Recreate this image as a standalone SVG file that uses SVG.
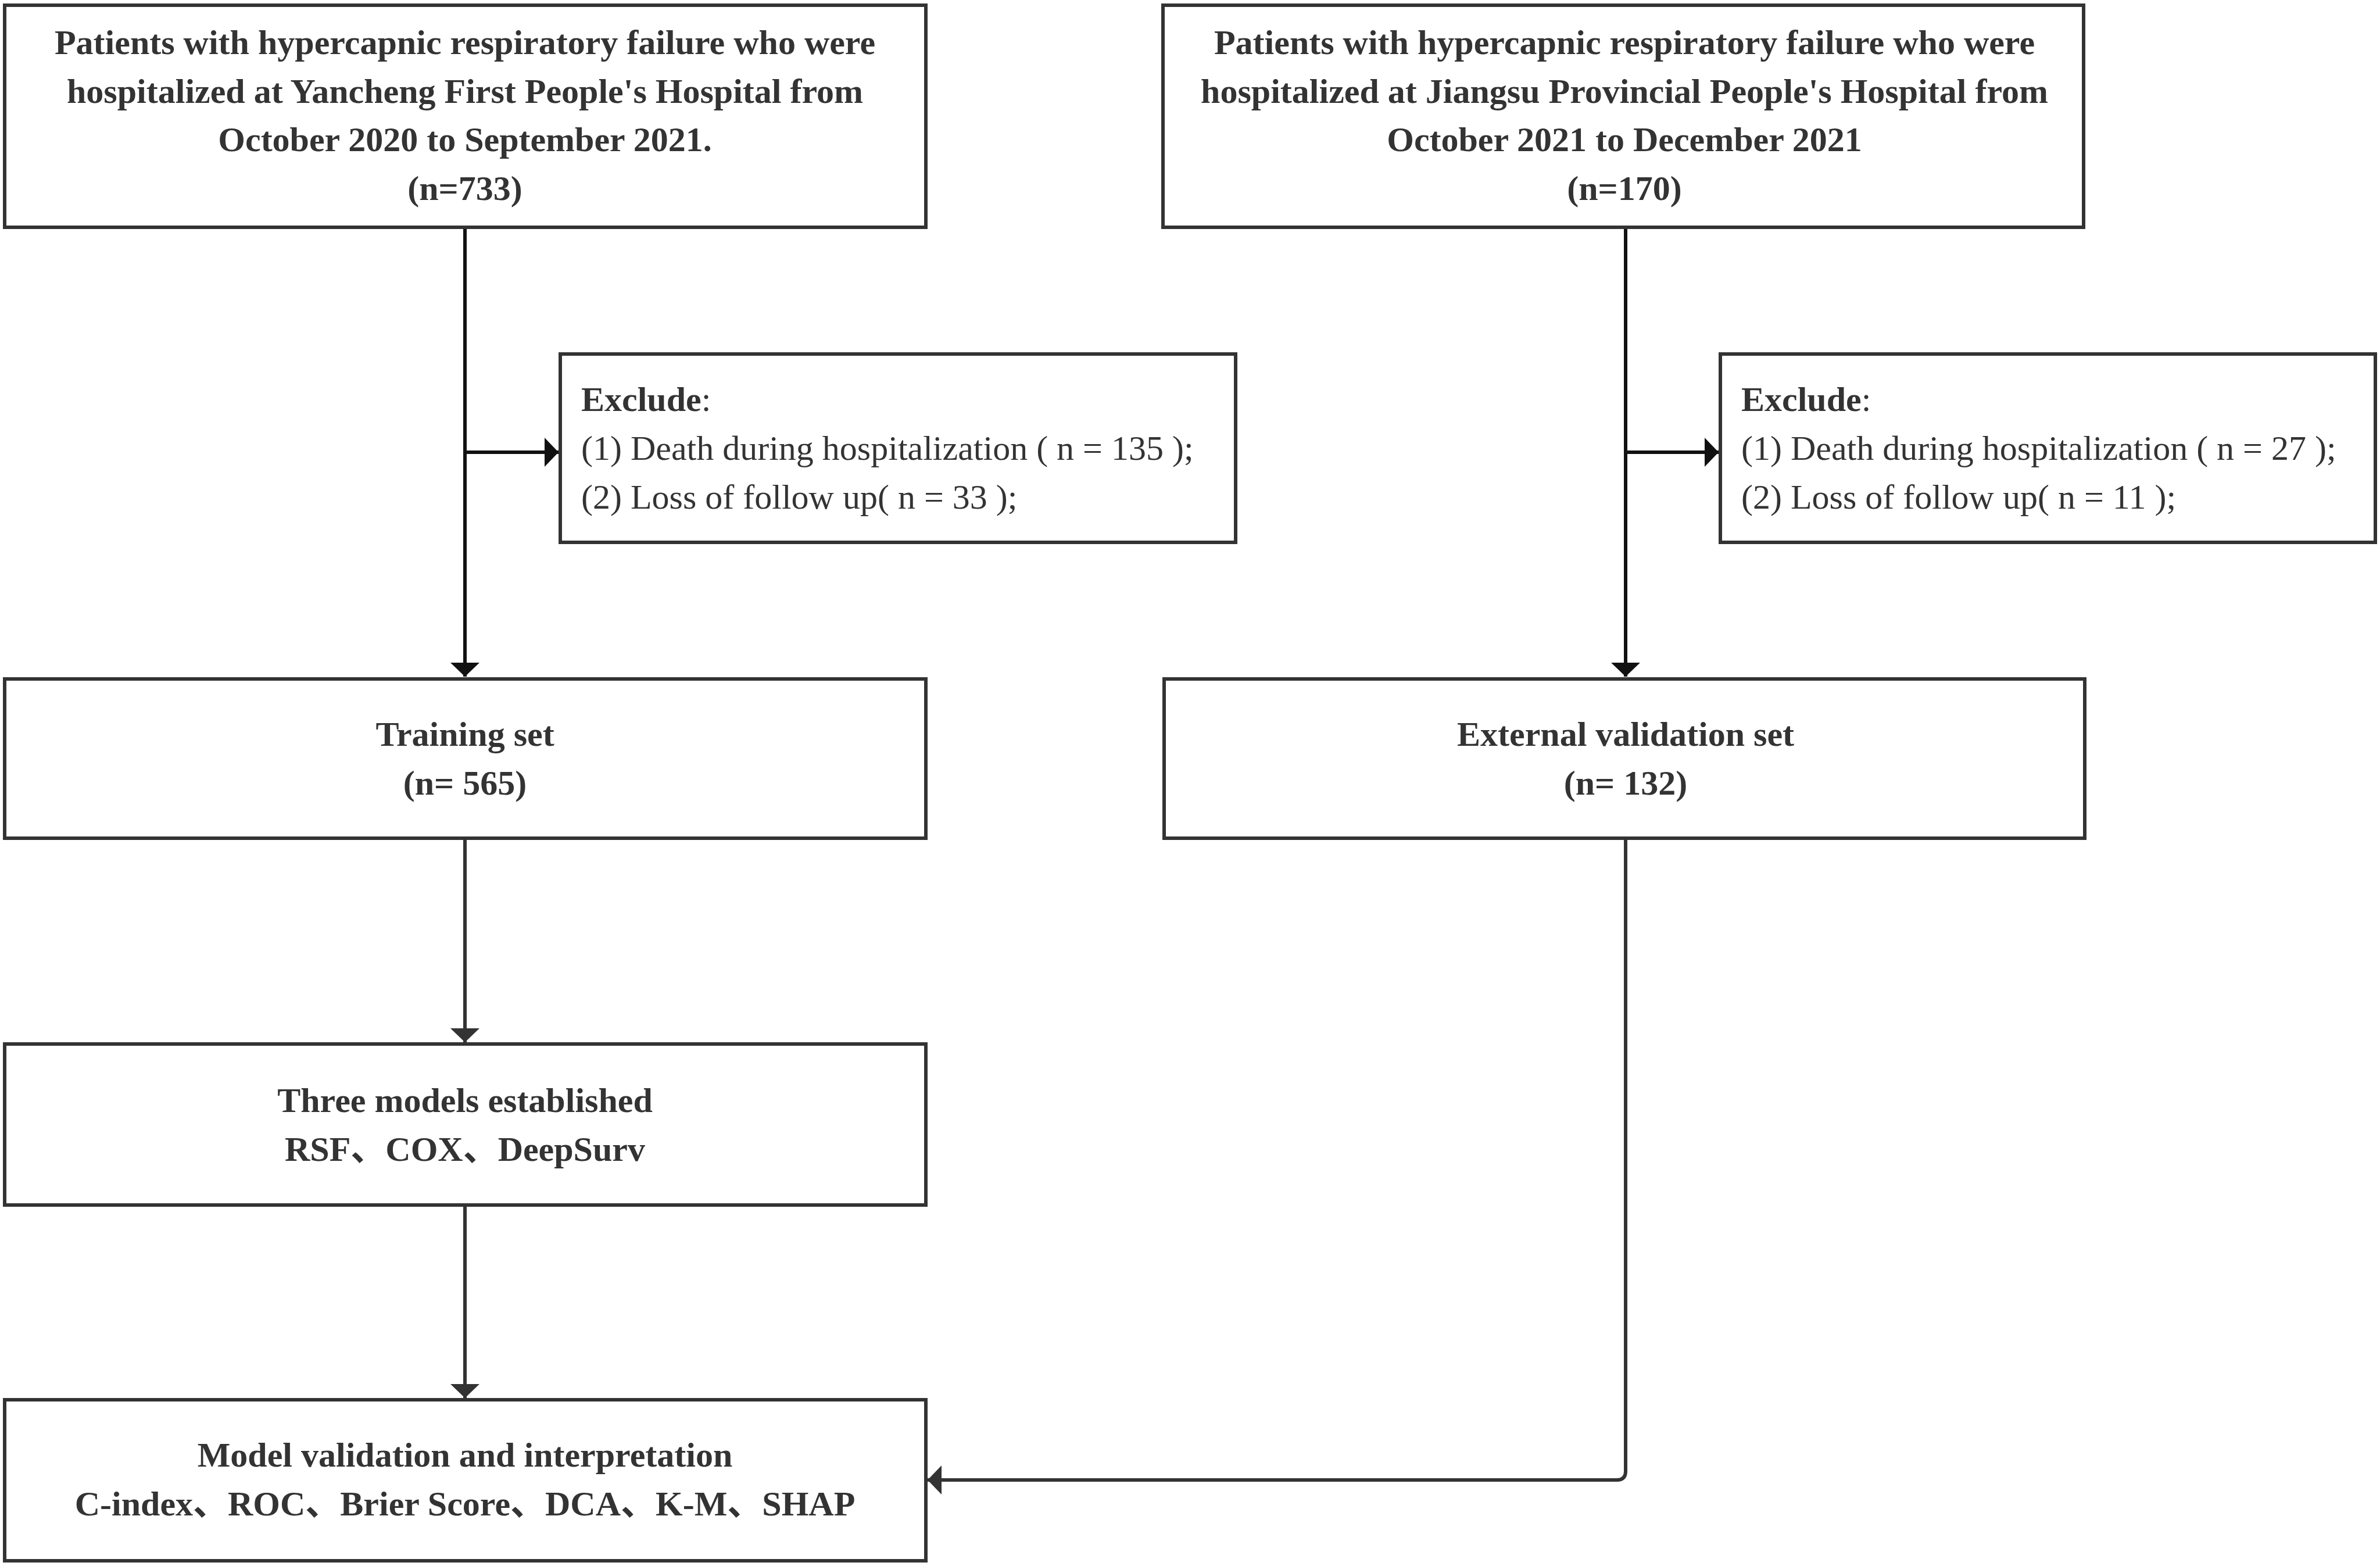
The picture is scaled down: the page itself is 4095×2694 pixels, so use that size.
<svg xmlns="http://www.w3.org/2000/svg" width="4095" height="2694" viewBox="0 0 4095 2694">
<style>
.box{fill:#ffffff;stroke:#333333;stroke-width:6}
.t{font-family:"Liberation Serif","Times New Roman","Noto Sans CJK SC",serif;font-size:60px;fill:#333333}
.b{font-weight:bold}
.c{text-anchor:middle}
.k1{fill:none;stroke:#111111;stroke-width:6}
.k2{fill:none;stroke:#333333;stroke-width:6}
</style>
<defs>
<marker id="a1" viewBox="0 0 24 50" markerWidth="24" markerHeight="50" refX="24" refY="25" orient="auto" markerUnits="userSpaceOnUse">
<path d="M0,0 L24,25 L0,50 Z" fill="#111111"/>
</marker>
<marker id="a2" viewBox="0 0 24 50" markerWidth="24" markerHeight="50" refX="24" refY="25" orient="auto" markerUnits="userSpaceOnUse">
<path d="M0,0 L24,25 L0,50 Z" fill="#333333"/>
</marker>
</defs>
<rect width="4095" height="2694" fill="#ffffff"/>
<g id="connectors">
<line class="k1" x1="800" y1="394" x2="800" y2="1164" marker-end="url(#a1)"/>
<line class="k1" x1="800" y1="778" x2="961" y2="778" marker-end="url(#a1)"/>
<line class="k1" x1="2797" y1="394" x2="2797" y2="1164" marker-end="url(#a1)"/>
<line class="k1" x1="2797" y1="778" x2="2957" y2="778" marker-end="url(#a1)"/>
<line class="k2" x1="800" y1="1445" x2="800" y2="1793" marker-end="url(#a2)"/>
<line class="k2" x1="800" y1="2076" x2="800" y2="2405" marker-end="url(#a2)"/>
<path class="k2" d="M2797,1445 L2797,2531 Q2797,2546 2782,2546 L1596,2546" marker-end="url(#a2)"/>
</g>
<g id="node-yancheng">
<rect class="box" x="8" y="9" width="1585" height="382"/>
<text class="t b c" x="800" y="93">Patients with hypercapnic respiratory failure who were</text>
<text class="t b c" x="800" y="177">hospitalized at Yancheng First People's Hospital from</text>
<text class="t b c" x="800" y="260">October 2020 to September 2021.</text>
<text class="t b c" x="800" y="344">(n=733)</text>
</g>
<g id="node-jiangsu">
<rect class="box" x="2001" y="9" width="1584" height="382"/>
<text class="t b c" x="2795" y="93">Patients with hypercapnic respiratory failure who were</text>
<text class="t b c" x="2795" y="177">hospitalized at Jiangsu Provincial People's Hospital from</text>
<text class="t b c" x="2795" y="260">October 2021 to December 2021</text>
<text class="t b c" x="2795" y="344">(n=170)</text>
</g>
<g id="node-exclude1">
<rect class="box" x="964" y="609" width="1162" height="324"/>
<text class="t" x="1000" y="707"><tspan class="b">Exclude</tspan>:</text>
<text class="t" x="1000" y="791">(1) Death during hospitalization ( n = 135 );</text>
<text class="t" x="1000" y="875">(2) Loss of follow up( n = 33 );</text>
</g>
<g id="node-exclude2">
<rect class="box" x="2960" y="609" width="1127" height="324"/>
<text class="t" x="2996" y="707"><tspan class="b">Exclude</tspan>:</text>
<text class="t" x="2996" y="791">(1) Death during hospitalization ( n = 27 );</text>
<text class="t" x="2996" y="875">(2) Loss of follow up( n = 11 );</text>
</g>
<g id="node-training">
<rect class="box" x="8" y="1168" width="1585" height="274"/>
<text class="t b c" x="800" y="1283">Training set</text>
<text class="t b c" x="800" y="1367">(n= 565)</text>
</g>
<g id="node-external">
<rect class="box" x="2003" y="1168" width="1584" height="274"/>
<text class="t b c" x="2797" y="1283">External validation set</text>
<text class="t b c" x="2797" y="1367">(n= 132)</text>
</g>
<g id="node-models">
<rect class="box" x="8" y="1796" width="1585" height="277"/>
<text class="t b c" x="800" y="1913">Three models established</text>
<text class="t b c" x="800" y="1997">RSF、COX、DeepSurv</text>
</g>
<g id="node-validation">
<rect class="box" x="8" y="2408" width="1585" height="277"/>
<text class="t b c" x="800" y="2523">Model validation and interpretation</text>
<text class="t b c" x="800" y="2607">C-index、ROC、Brier Score、DCA、K-M、SHAP</text>
</g>
</svg>
